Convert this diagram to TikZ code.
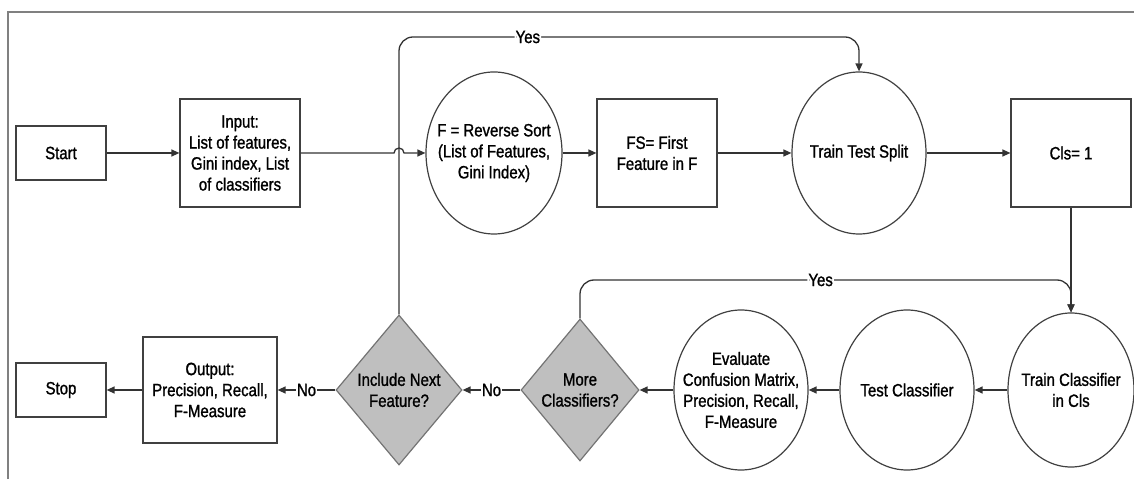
\documentclass[tikz,border=0pt]{standalone}
\usepackage{fontspec}
\setmainfont[FakeStretch=0.84, FakeBold=1.2]{Liberation Sans}
\usetikzlibrary{shapes.geometric,arrows.meta}

\begin{document}
\begin{tikzpicture}[x=1pt, y=1pt,
	font=\fontsize{17.8}{21}\selectfont,
	box/.style={rectangle, draw=black!75, line width=1.2pt, align=center, inner sep=2pt},
	oval/.style={ellipse, draw=black!75, line width=1.2pt, align=center, inner xsep=-18pt, inner ysep=0pt},
	decision/.style={diamond, draw=black!55, fill=black!25, line width=1.2pt, align=center, inner xsep=-10pt, inner ysep=0pt},
	arrow/.style={-{Triangle[length=8pt,width=7pt]}, black!80, line width=1.3pt},
	yesno/.style={fill=white, inner sep=1pt, text=black}]
	
	\useasboundingbox (0,0) rectangle (1134,479);
	\draw[black!50, line width=2.5pt] (8,0) -- (8,467) -- (1134,467);
	
	% top row
	\node[box, minimum width=90, minimum height=54] at (61,326) (start) {Start};
	\node[box, minimum width=120, minimum height=108] at (240,326) (input) {Input:\\List of features,\\Gini index, List\\of classifiers};
	\node[oval, minimum width=136, minimum height=162] at (494,326) (rsort) {F = Reverse Sort\\(List of Features,\\Gini Index)};
	\node[box, minimum width=120, minimum height=108] at (657,326) (fs) {FS= First\\Feature in F};
	\node[oval, minimum width=134, minimum height=162] at (859,326) (tts) {Train Test Split};
	\node[box, minimum width=120, minimum height=108] at (1071,326) (cls) {Cls= 1};
	
	% bottom row
	\node[oval, minimum width=126, minimum height=154] at (1071,89) (traincl) {Train Classifier\\in Cls};
	\node[oval, minimum width=134, minimum height=160] at (907,89) (testcl) {Test Classifier};
	\node[oval, minimum width=134, minimum height=160] at (741,89) (eval) {Evaluate\\Confusion Matrix,\\Precision, Recall,\\F-Measure};
	\node[decision, minimum width=118, minimum height=142] at (580,89) (more) {More\\Classifiers?};
	\node[decision, minimum width=126, minimum height=150] at (399,89) (include) {Include Next\\Feature?};
	\node[box, minimum width=134, minimum height=106] at (210,89) (output) {Output:\\Precision, Recall,\\F-Measure};
	\node[box, minimum width=90, minimum height=54] at (61,89) (stop) {Stop};
	
	\coordinate (jump) at (include.north |- input.east);
	\coordinate (yes1l) at (399,442);
	\coordinate (yes1r) at (859,442);
	\coordinate (yes2l) at (580,199);
	\coordinate (yes2r) at (1071,199);
	
	\draw[arrow] (start) -- (input);
	\draw[arrow] (input.east) -- ([xshift=-5]jump) arc[start angle=180, end angle=0, radius=5] -- (rsort.west);
	\draw[arrow] (rsort) -- (fs);
	\draw[arrow] (fs) -- (tts);
	\draw[arrow] (tts) -- (cls);
	\draw[arrow] (cls) -- (traincl);
	
	\draw[arrow] (traincl) -- (testcl);
	\draw[arrow] (testcl) -- (eval);
	\draw[arrow] (eval) -- (more);
	\draw[arrow] (more) -- node[yesno] {No} (include);
	\draw[arrow] (include) -- node[yesno] {No} (output);
	\draw[arrow] (output) -- (stop);
	
	\draw[arrow, rounded corners=14] (include.north) -- (yes1l) -- node[yesno, pos=0.28] {Yes} (yes1r) -- (tts.north);
	\draw[arrow, rounded corners=14] (more.north) -- (yes2l) -- node[yesno, pos=0.49] {Yes} (yes2r) -- (traincl.north);
	
\end{tikzpicture}
\end{document}
